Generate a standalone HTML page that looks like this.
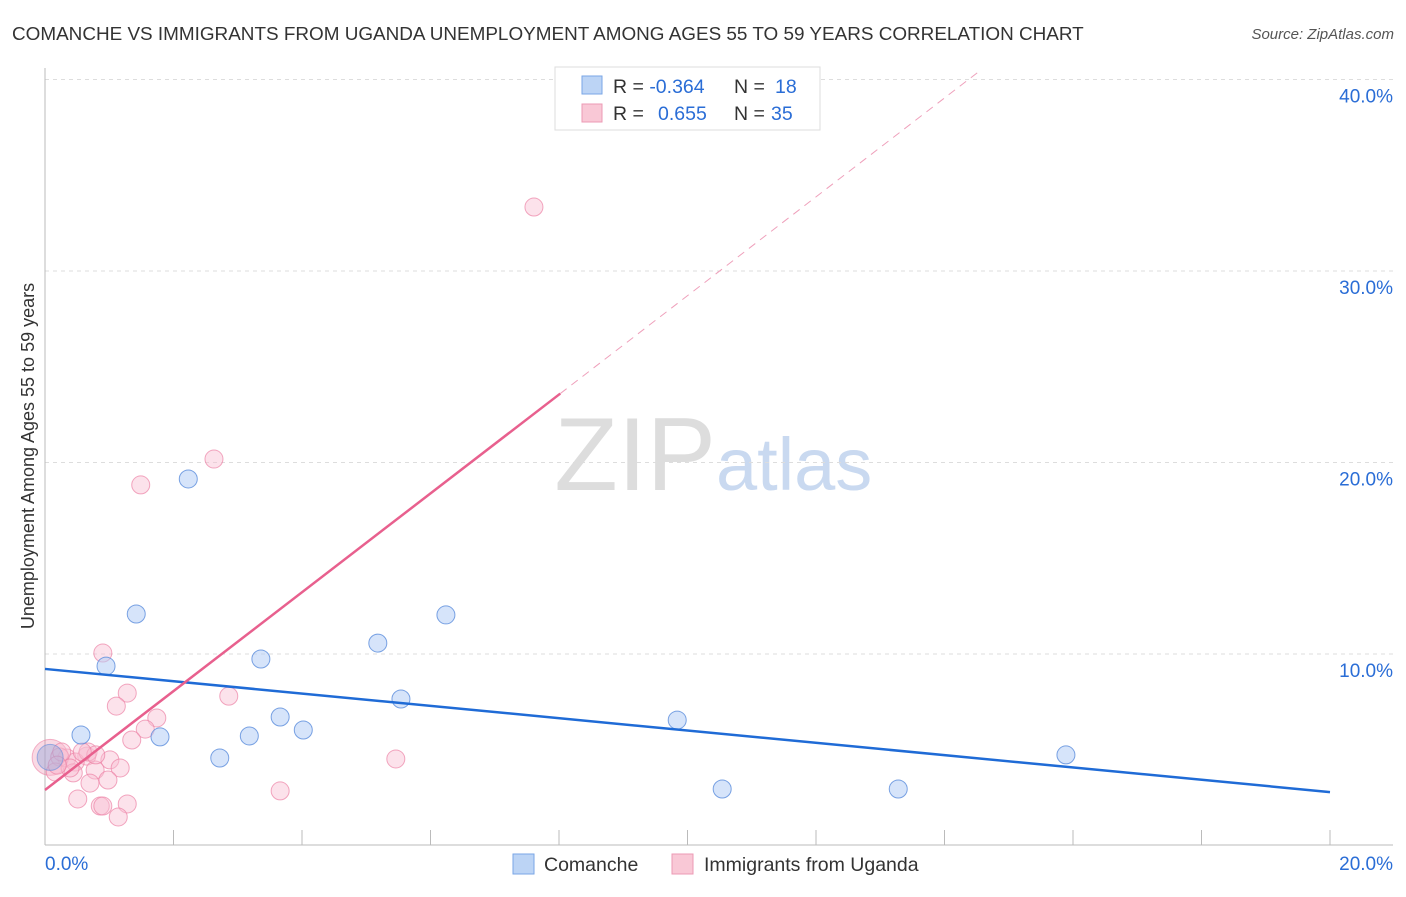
<!DOCTYPE html>
<html><head><meta charset="utf-8"><style>
body{margin:0;background:#fff;font-family:"Liberation Sans",sans-serif;}
svg text{font-family:"Liberation Sans",sans-serif;}
</style></head><body>
<svg id="chart" width="1406" height="892">
<text x="12" y="40" font-size="18.9" fill="#333">COMANCHE VS IMMIGRANTS FROM UGANDA UNEMPLOYMENT AMONG AGES 55 TO 59 YEARS CORRELATION CHART</text>
<text x="1394" y="39" font-size="15" fill="#555" font-style="italic" text-anchor="end">Source: ZipAtlas.com</text>
<text x="716" y="490" font-size="104" fill="#ddd" text-anchor="end" font-family="Liberation Serif">ZIP</text>
<text x="716" y="490" font-size="74" fill="#c9d9f0">atlas</text>
<text transform="translate(34,456) rotate(-90)" font-size="18" fill="#333" text-anchor="middle">Unemployment Among Ages 55 to 59 years</text>
<g id="grid"></g><g id="marks"></g>
<g>
<rect x="555" y="67" width="265" height="63" fill="#fff" stroke="#ddd"/>
<rect x="582" y="76" width="20" height="18" fill="#bcd4f5" stroke="#7aa6e6"/>
<rect x="582" y="104" width="20" height="18" fill="#f9c8d6" stroke="#ec9ab4"/>
<text x="613" y="93" font-size="19.5" fill="#333">R = <tspan fill="#2a6dd6">-0.364</tspan><tspan x="734">N = </tspan><tspan fill="#2a6dd6" x="775">18</tspan></text>
<text x="613" y="120" font-size="19.5" fill="#333">R = <tspan fill="#2a6dd6" x="658">0.655</tspan><tspan x="734">N = </tspan><tspan fill="#2a6dd6" x="771">35</tspan></text>
</g>
<g>
<rect x="513" y="854" width="21" height="20" fill="#bcd4f5" stroke="#7aa6e6"/>
<text x="544" y="871" font-size="19.5" fill="#333">Comanche</text>
<rect x="672" y="854" width="21" height="20" fill="#f9c8d6" stroke="#ec9ab4"/>
<text x="704" y="871" font-size="19.5" fill="#333">Immigrants from Uganda</text>
</g>
</svg>
<script>
const yTicks=[10,20,30,40];
const yTickLabels=["10.0%","20.0%","30.0%","40.0%"];
const xTickLabels=["0.0%","20.0%"];
const blueX=[2.23,1.42,0.95,3.36,5.18,6.24,0.56,1.79,3.18,3.66,4.02,2.72,5.54,9.84,10.54,13.28,15.89];
const blueY=[19.14,12.09,9.37,9.74,10.57,12.04,5.77,5.67,5.72,6.71,6.03,4.57,7.65,6.55,2.95,2.95,4.73];
const pinkX=[7.61,2.63,1.49,0.90,1.28,2.86,1.11,1.74,1.56,1.35,1.01,0.65,0.34,0.23,0.47,0.78,0.16,0.44,1.17,0.98,0.70,0.51,0.86,0.90,1.28,1.14,3.66,5.46,0.67,0.26,0.39,0.79,0.58,0.19];
const pinkY=[33.34,20.18,18.83,10.05,7.96,7.80,7.28,6.66,6.08,5.51,4.47,4.67,4.57,4.62,4.36,3.94,3.84,3.79,4.05,3.42,3.26,2.43,2.06,2.06,2.17,1.49,2.85,4.52,4.88,4.88,4.05,4.73,4.88,4.20];
const blueTrend=[9.22,2.79];
const pinkTrend=[2.9,23.6];
const pinkSolidEnd=8.02;
const X=v=>45+v*64.25, Y=v=>845.5-v*19.15;
const NS="http://www.w3.org/2000/svg";
const g=document.getElementById('grid'), m=document.getElementById('marks');
function mk(p,tag,a){const e=document.createElementNS(NS,tag);for(const k in a)e.setAttribute(k,a[k]);p.appendChild(e);return e;}
yTicks.forEach((t,i)=>{
 const l=mk(g,'line',{x1:45,x2:1393,y1:Y(t),y2:Y(t),stroke:'#ddd','stroke-dasharray':'4 4'});
 
 
 const tx=mk(g,'text',{x:1393,y:Y(t)+23,'font-size':19,fill:'#2a6dd6','text-anchor':'end'});tx.textContent=yTickLabels[i];
 
 
});
let a=mk(g,'line',{x1:45,x2:45,y1:68,y2:845,stroke:'#bbb'});


a=mk(g,'line',{x1:45,x2:1393,y1:845,y2:845,stroke:'#bbb'});


for(let i=0;i<=10;i++){const t=mk(g,'line',{x1:X(i*2),x2:X(i*2),y1:830,y2:845,stroke:'#bbb'});
 
 }
let xl=mk(g,'text',{x:45,y:870,'font-size':19,fill:'#2a6dd6'});xl.textContent=xTickLabels[0];


xl=mk(g,'text',{x:1393,y:870,'font-size':19,fill:'#2a6dd6','text-anchor':'end'});xl.textContent=xTickLabels[1];


let b=mk(m,'circle',{cx:X(0.08),cy:Y(4.6),r:18,fill:'rgba(236,130,165,0.3)',stroke:'rgba(236,130,165,0.6)'});


pinkX.forEach((x,i)=>{const c=mk(m,'circle',{cx:X(x),cy:Y(pinkY[i]),r:9,fill:'rgba(249,190,210,0.45)',stroke:'rgba(236,130,165,0.7)'});
 
 });
b=mk(m,'circle',{cx:X(0.08),cy:Y(4.6),r:13,fill:'rgba(150,170,220,0.45)',stroke:'rgba(100,140,220,0.6)'});


blueX.forEach((x,i)=>{const c=mk(m,'circle',{cx:X(x),cy:Y(blueY[i]),r:9,fill:'rgba(180,205,245,0.55)',stroke:'rgba(90,140,220,0.8)'});
 
 });
let l=mk(m,'line',{x1:X(0),y1:Y(blueTrend[0]),x2:X(20),y2:Y(blueTrend[1]),stroke:'#1f6bd6','stroke-width':2.5});


const ps=(pinkTrend[1]-pinkTrend[0])/pinkSolidEnd;
l=mk(m,'line',{x1:X(0),y1:Y(pinkTrend[0]),x2:X(pinkSolidEnd),y2:Y(pinkTrend[1]),stroke:'#e8608e','stroke-width':2.5});


const xe=(40.5-pinkTrend[0])/ps;
l=mk(m,'line',{x1:X(pinkSolidEnd),y1:Y(pinkTrend[1]),x2:X(xe),y2:Y(40.5),stroke:'#efa0bb','stroke-width':1,'stroke-dasharray':'8 6'});


</script>
</body></html>
